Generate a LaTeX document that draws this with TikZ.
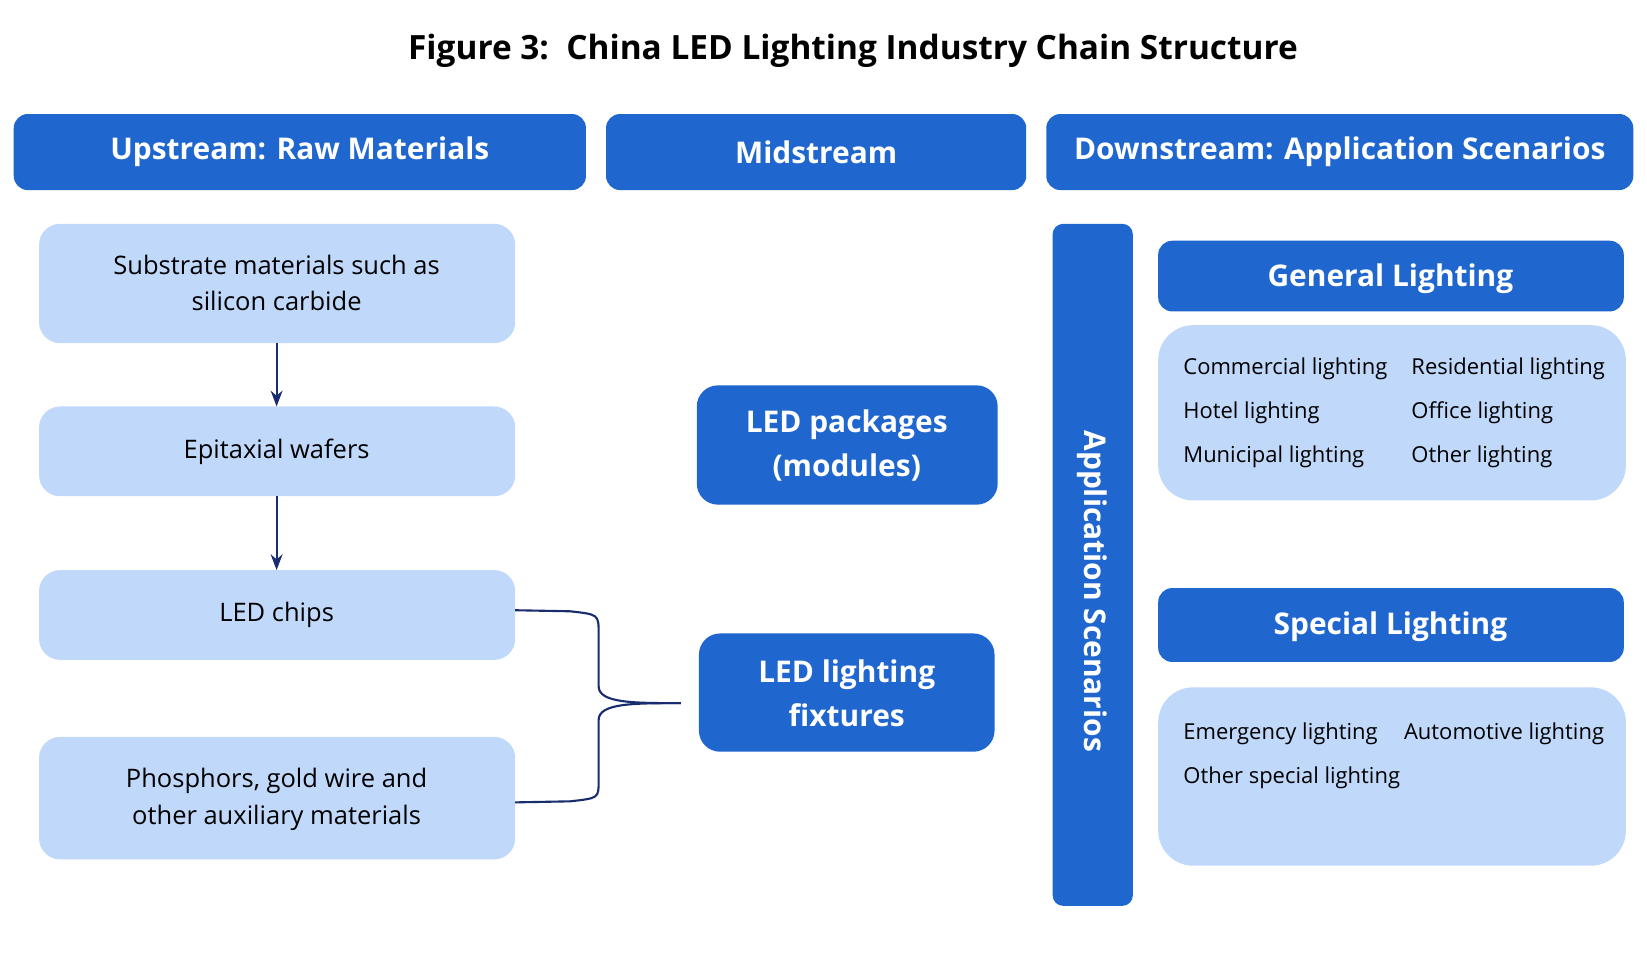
\documentclass[tikz,border=0pt]{standalone}
\usepackage{fontspec}
\setmainfont{Open Sans}
\usetikzlibrary{positioning,arrows.meta}
\definecolor{hdblue}{RGB}{31,102,207}
\definecolor{pale}{RGB}{192,216,250}
\definecolor{navy}{RGB}{25,45,110}
\tikzset{
  hdbox/.style={fill=hdblue, rounded corners=8pt, text=white, font=\fontsize{17}{20}\selectfont\bfseries},
  palebox/.style={fill=pale, rounded corners=12pt, align=center, font=\fontsize{14.5}{21}\selectfont},
  item/.style={anchor=west, font=\fontsize{12.5}{15}\selectfont},
  link/.style={navy, line width=1.2pt}
}
\begin{document}
\begin{tikzpicture}[x=0.0211cm, y=-0.0211cm]
    \useasboundingbox[fill=white] (0,0) rectangle (1560,904);
    % Titel
    \node[font=\fontsize{19}{22}\selectfont\bfseries] (title) at (808,48) {Figure 3:\ \ China LED Lighting Industry Chain Structure};

    % Kopfzeilen
    \fill[hdbox] (13,108) rectangle (555,180);
    \node[hdbox] (up) at (284,144) {Upstream: Raw Materials};
    \fill[hdbox] (574,108) rectangle (972,180);
    \node[hdbox] (mid) at (773,144) {Midstream};
    \fill[hdbox] (991,108) rectangle (1547,180);
    \node[hdbox] (down) at (1269,144) {Downstream: Application Scenarios};

    % Upstream
    \fill[palebox] (37,212) rectangle (488,325);
    \node[palebox] (sub) at (262,268) {Substrate materials such as\\silicon carbide};
    \fill[palebox] (37,385) rectangle (488,470);
    \node[palebox] (epi) at (262,428) {Epitaxial wafers};
    \fill[palebox] (37,540) rectangle (488,625);
    \node[palebox] (chip) at (262,582) {LED chips};
    \fill[palebox] (37,698) rectangle (488,814);
    \node[palebox] (aux) at (262,757) {Phosphors, gold wire and\\other auxiliary materials};
    \coordinate (subS) at (262,325);
    \coordinate (epiN) at (262,385);
    \coordinate (epiS) at (262,470);
    \coordinate (chipN) at (262,540);
    \draw[link, -{Stealth[length=9pt]}] (subS) -- (epiN);
    \draw[link, -{Stealth[length=9pt]}] (epiS) -- (chipN);

    % Midstream
    \fill[hdbox, rounded corners=12pt] (660,365) rectangle (945,478);
    \node[hdbox, align=center, font=\fontsize{17}{25}\selectfont\bfseries] (pkg) at (802,422) {LED packages\\(modules)};
    \fill[hdbox, rounded corners=12pt] (662,600) rectangle (942,712);
    \node[hdbox, align=center, font=\fontsize{17}{25}\selectfont\bfseries] (fix) at (802,657) {LED lighting\\fixtures};

    % Klammer
    \coordinate (chipE) at (488,578);
    \coordinate (auxE) at (488,760);
    \coordinate (tip) at (645,666);
    \draw[link] (chipE) -- (540,579) .. controls (567,582) .. (567,600) -- (567,650)
        .. controls (567,666) and (600,666) .. (tip);
    \draw[link] (auxE) -- (540,759) .. controls (567,756) .. (567,740) -- (567,682)
        .. controls (567,666) and (600,666) .. (tip);

    % Downstream
    \fill[hdbox, rounded corners=6pt] (997,212) rectangle (1073,858);
    \node[hdbox, rotate=-90] (app) at (1035,560) {Application Scenarios};

    \fill[hdbox] (1097,228) rectangle (1538,295);
    \node[hdbox] (gen) at (1317,264) {General Lighting};
    \fill[palebox, rounded corners=20pt] (1097,308) rectangle (1540,474);
    \node[item] (g1) at (1115,349) {Commercial lighting};
    \node[item] (g2) at (1331,349) {Residential lighting};
    \node[item] (g3) at (1115,391) {Hotel lighting};
    \node[item] (g4) at (1331,391) {Office lighting};
    \node[item] (g5) at (1115,433) {Municipal lighting};
    \node[item] (g6) at (1331,433) {Other lighting};

    \fill[hdbox] (1097,557) rectangle (1538,627);
    \node[hdbox] (spe) at (1317,594) {Special Lighting};
    \fill[palebox, rounded corners=20pt] (1097,651) rectangle (1540,820);
    \node[item] (s1) at (1115,695) {Emergency lighting};
    \node[item] (s2) at (1324,695) {Automotive lighting};
    \node[item] (s3) at (1115,737) {Other special lighting};
\end{tikzpicture}
\end{document}
